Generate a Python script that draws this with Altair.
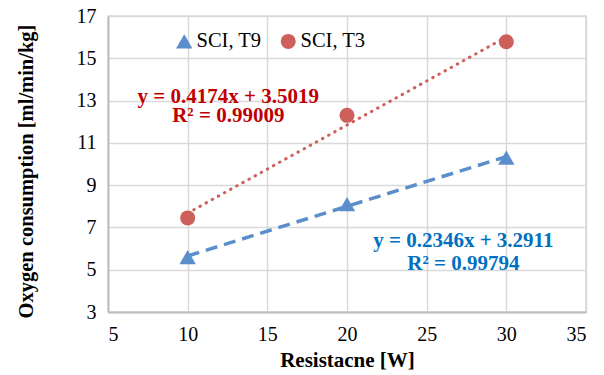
import altair as alt
import pandas as pd

resistance = [10, 20, 30]
t9_values = [5.6, 8.1, 10.3]
t3_values = [7.45, 12.3, 15.78]
series_names = ["SCI, T9", "SCI, T3"]

eq_text = ["y = 0.4174x + 3.5019", "R² = 0.99009", "y = 0.2346x + 3.2911", "R² = 0.99794"]
eq_x = [12.55, 12.55, 27.3, 27.3]
eq_y = [13.17, 12.27, 6.36, 5.27]
eq_series = ["SCI, T3", "SCI, T3", "SCI, T9", "SCI, T9"]

points = pd.DataFrame({
    "x": resistance * 2,
    "y": t9_values + t3_values,
    "series": [series_names[0]] * 3 + [series_names[1]] * 3,
})
labels = pd.DataFrame({"x": eq_x, "y": eq_y, "t": eq_text, "series": eq_series})

FONT = "Liberation Serif, Times New Roman, serif"
xs = alt.Scale(domain=[5, 35], nice=False)
ys = alt.Scale(domain=[3, 17], nice=False)
xax = alt.Axis(values=[5, 10, 15, 20, 25, 30, 35], title="Resistacne [W]")
yax = alt.Axis(values=[3, 5, 7, 9, 11, 13, 15, 17], title="Oxygen consumption [ml/min/kg]")

leg = alt.Legend(title=None, orient="none", legendX=66, legendY=15,
                 direction="horizontal", columnPadding=16, symbolSize=150,
                 labelFont=FONT, labelFontSize=20.5, labelColor="#000",
                 symbolStrokeWidth=0, labelOffset=2)
color = alt.Color("series:N", scale=alt.Scale(domain=series_names, range=["#5B8FCB", "#CD605B"]), legend=leg)
shape = alt.Shape("series:N", scale=alt.Scale(domain=series_names, range=["triangle-up", "circle"]), legend=leg)
size = alt.Size("series:N", scale=alt.Scale(domain=series_names, range=[270, 225]), legend=None)

base = alt.Chart(points)

pts = base.mark_point(filled=True, opacity=1).encode(
    x=alt.X("x:Q", scale=xs, axis=xax),
    y=alt.Y("y:Q", scale=ys, axis=yax),
    color=color,
    shape=shape,
    size=size,
)

reg_t9 = base.transform_filter(alt.datum.series == series_names[0]).transform_regression(
    "x", "y", extent=[10, 30]
).mark_line(color="#5B8FCB", strokeWidth=3.5, strokeDash=[12, 7]).encode(
    x=alt.X("x:Q", scale=xs), y=alt.Y("y:Q", scale=ys)
)
reg_t3 = base.transform_filter(alt.datum.series == series_names[1]).transform_regression(
    "x", "y", extent=[10, 30]
).mark_line(color="#CD605B", strokeWidth=3, strokeDash=[0.5, 6.5], strokeCap="round").encode(
    x=alt.X("x:Q", scale=xs), y=alt.Y("y:Q", scale=ys)
)

txt = alt.Chart(labels).mark_text(font=FONT, fontSize=21, fontWeight="bold", baseline="middle", align="center").encode(
    x=alt.X("x:Q", scale=xs), y=alt.Y("y:Q", scale=ys), text="t:N",
    color=alt.condition(alt.datum.series == "SCI, T3", alt.value("#C00000"), alt.value("#0070C0")),
)

chart = alt.layer(reg_t9, reg_t3, pts, txt).properties(
    width=478, height=296,
    autosize=alt.AutoSizeParams(type="none"),
    padding={"left": 100, "top": 8, "right": 10, "bottom": 60},
).configure_view(stroke="#D9D9D9", strokeWidth=1.5).configure_axis(
    labelFont=FONT, labelFontSize=20, labelColor="#000", labelPadding=12,
    titleFont=FONT, titleFontWeight="bold", titleColor="#000",
    grid=True, gridColor="#D9D9D9", gridWidth=1.5, ticks=False,
    domainColor="#BFBFBF", domainWidth=2,
).configure_axisX(titlePadding=5, titleFontSize=21).configure_axisY(titlePadding=40, titleFontSize=20.5, titleY=155)

chart.save("out.html", embed_options={"renderer": "svg", "actions": False})
